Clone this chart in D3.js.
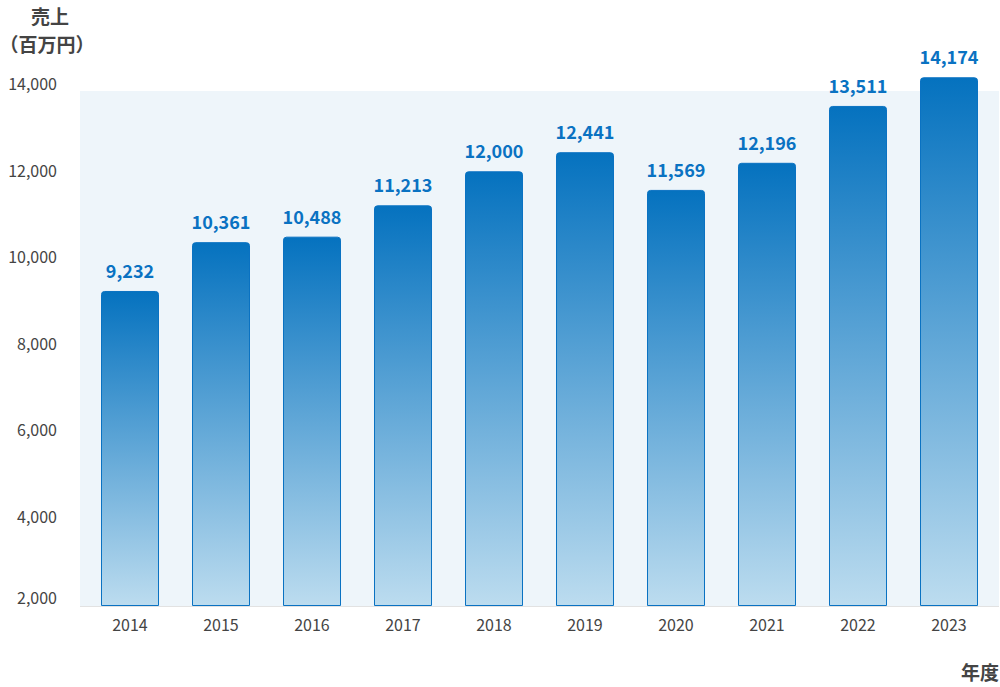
<!DOCTYPE html>
<html><head><meta charset="utf-8">
<script src="https://cdn.jsdelivr.net/npm/d3@7"></script>
<style>
html,body{margin:0;padding:0;background:#fff;}
svg{display:block;font-family:"Noto Sans CJK JP","Noto Sans",sans-serif;}
</style></head>
<body>
<svg id="chart" width="1000" height="687"></svg>
<script>
const years = ["2014","2015","2016","2017","2018","2019","2020","2021","2022","2023"];
const sales = [9232,10361,10488,11213,12000,12441,11569,12196,13511,14174];
const yTicks = [2000,4000,6000,8000,10000,12000,14000];

const svg = d3.select("#chart");
const plot = {left:80, right:999, top:91, bottom:606};

const x = d3.scaleBand().domain(years).range([84.5, 994.5]).paddingInner(1-58/91).paddingOuter((1-58/91)/2);
const y = d3.scaleLinear().domain([2000,14000]).range([603.7, 84.8]);

const defs = svg.append("defs");
const grad = defs.append("linearGradient").attr("id","barGrad").attr("x1",0).attr("y1",0).attr("x2",0).attr("y2",1);
grad.append("stop").attr("offset","0%").attr("stop-color","#0572bf");
grad.append("stop").attr("offset","100%").attr("stop-color","#bcdcef");

// panel
svg.append("rect").attr("x",plot.left).attr("y",plot.top)
  .attr("width",plot.right-plot.left).attr("height",plot.bottom-plot.top)
  .attr("fill","#eef5fa");
svg.append("line").attr("x1",plot.left).attr("x2",plot.right)
  .attr("y1",plot.bottom+0.5).attr("y2",plot.bottom+0.5)
  .attr("stroke","#e2e2e2").attr("stroke-width",1);

// y axis
const yAxis = d3.axisLeft(y).tickValues(yTicks).tickFormat(d3.format(",")).tickSize(0).tickPadding(0);
const gy = svg.append("g").attr("transform","translate(57,0)").call(yAxis);
gy.select(".domain").remove();
gy.selectAll("text").attr("fill","#444").style("font-size","16px")
  .style("font-family","'Noto Sans CJK JP','Noto Sans',sans-serif")
  .attr("dy", (d)=> (d===2000? "0em" : "0.3em"));

// x axis
const xAxis = d3.axisBottom(x).tickSize(0).tickPadding(0);
const gx = svg.append("g").attr("transform","translate(0,620)").call(xAxis);
gx.select(".domain").remove();
gx.selectAll("text").attr("fill","#444").style("font-size","16px")
  .style("font-family","'Noto Sans CJK JP','Noto Sans',sans-serif");

// bars with rounded top corners
const r = 3;
function barPath(d, i){
  const x0 = x(years[i]) + 0.5, w = x.bandwidth() - 1;
  const y0 = y(d) + 0.5, y1 = plot.bottom - 0.5;
  return `M${x0},${y1}V${y0+r}Q${x0},${y0} ${x0+r},${y0}H${x0+w-r}Q${x0+w},${y0} ${x0+w},${y0+r}V${y1}Z`;
}
svg.append("g").selectAll("path").data(sales).join("path")
  .attr("d",(d,i)=>barPath(d,i))
  .attr("fill","url(#barGrad)")
  .attr("stroke","#0a72c2").attr("stroke-width",1);

// value labels
svg.append("g").selectAll("text").data(sales).join("text")
  .attr("x",(d,i)=>x(years[i])+x.bandwidth()/2)
  .attr("y",d=>y(d)-13)
  .attr("text-anchor","middle")
  .attr("fill","#0a72c2")
  .style("font-size","18px").style("font-weight","bold")
  .text(d=>d3.format(",")(d));

// titles
svg.append("text").attr("x",50).attr("y",24).attr("text-anchor","middle")
  .attr("fill","#444").style("font-size","19px").style("font-weight","bold").text("売上");
svg.append("text").attr("x",47).attr("y",52).attr("text-anchor","middle")
  .attr("fill","#444").style("font-size","19px").style("font-weight","bold").text("（百万円）");
svg.append("text").attr("x",999).attr("y",680).attr("text-anchor","end")
  .attr("fill","#444").style("font-size","19px").style("font-weight","bold").text("年度");
</script>
</body></html>
